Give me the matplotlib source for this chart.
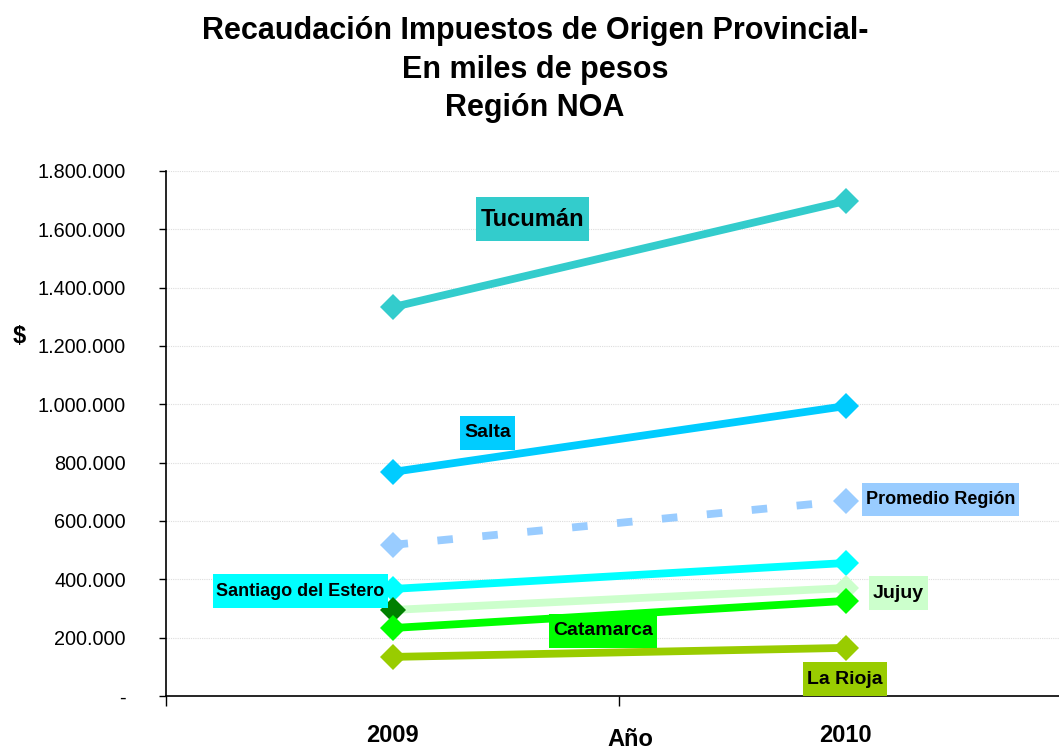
import matplotlib
matplotlib.use("Agg")
import matplotlib.pyplot as plt
from matplotlib.path import Path
from matplotlib.ticker import FuncFormatter, FixedLocator

plt.rcParams['font.family'] = ['Liberation Sans', 'DejaVu Sans']

years = ["2009", "2010"]
series_names = ["Tucumán", "Salta", "Promedio Región", "Santiago del Estero",
                "Jujuy", "Catamarca", "La Rioja"]
tucuman = [1333000, 1697000]
salta = [768000, 994000]
promedio = [518000, 669000]
santiago = [367000, 456000]
jujuy = [295000, 370000]
catamarca = [233000, 326000]
la_rioja = [134000, 165000]
y_ticks = [0, 200000, 400000, 600000, 800000, 1000000, 1200000, 1400000, 1600000, 1800000]

values = [tucuman, salta, promedio, santiago, jujuy, catamarca, la_rioja]
colors = ["#33CCCC", "#00CCFF", "#99CCFF", "#00FFFF", "#CCFFCC", "#00FF00", "#99CC00"]
# label positions (x in category units, y in data units), font sizes
label_pos = [(0.309, 1635000, 17), (0.210, 902000, 14), (1.210, 675000, 13),
             (-0.203, 360000, 13), (1.117, 353000, 14), (0.464, 223000, 14),
             (0.999, 58000, 14)]


def label_box(x0, y0, width, height, mutation_size):
    px = 0.2 * mutation_size
    py = 0.45 * mutation_size
    x0, y0 = x0 - px, y0 - py
    x1, y1 = x0 + width + 2 * px, y0 + height + 2 * py
    return Path([(x0, y0), (x1, y0), (x1, y1), (x0, y1), (x0, y0)],
                closed=True)


fig = plt.figure(figsize=(10.59, 7.53), dpi=100)
ax = fig.add_axes([166 / 1059, 57 / 753, 906 / 1059, 525 / 753])
x = list(range(len(years)))

for name, vals, col in zip(series_names, values, colors):
    ls = (0, (2, 3.8)) if name == "Promedio Región" else "-"
    ax.plot(x, vals, color=col, lw=5.6, ls=ls, solid_capstyle="butt",
            dash_capstyle="butt", zorder=2)
    mcols = [col, col]
    if name == "Jujuy":
        mcols = ["#008000", col]
    for xi, v, mc in zip(x, vals, mcols):
        ax.plot([xi], [v], marker="D", ms=13, color=mc, mec=mc, mew=0, zorder=3)

for name, (lx, ly, fs), col in zip(series_names, label_pos, colors):
    ax.text(lx, ly, name, ha="center", va="center", fontsize=fs, fontweight="bold",
            color="black", zorder=4,
            bbox=dict(boxstyle=label_box, fc=col, ec="none"))

ax.set_xlim(-0.5, 1.5)
ax.set_ylim(0, 1800000)
ax.yaxis.set_major_locator(FixedLocator(y_ticks))


def fmt(v, pos):
    if v == 0:
        return "-"
    return f"{int(v):,}".replace(",", ".")


ax.yaxis.set_major_formatter(FuncFormatter(fmt))
ax.tick_params(axis="y", labelsize=14.3, length=5, width=1, pad=24, direction="out")
ax.set_xticks(x)
ax.set_xticklabels(years, fontsize=17, fontweight="bold")
ax.tick_params(axis="x", which="major", length=0, pad=20)
ax.set_xticks([-0.5, 0.5, 1.5], minor=True)
ax.tick_params(axis="x", which="minor", length=7, width=1, direction="out")

for yt in y_ticks[1:]:
    ax.axhline(yt, color="#DDDDDD", lw=0.8, ls=(0, (1, 1)), zorder=1)

for s in ["top", "right"]:
    ax.spines[s].set_visible(False)
ax.spines["left"].set_linewidth(1.2)
ax.spines["bottom"].set_linewidth(1.2)

fig.text(535 / 1059, 1 - 31 / 753, "Recaudación Impuestos de Origen Provincial-",
         ha="center", va="center", fontsize=22, fontweight="bold")
fig.text(535 / 1059, 1 - 70 / 753, "En miles de pesos",
         ha="center", va="center", fontsize=22, fontweight="bold")
fig.text(535 / 1059, 1 - 108 / 753, "Región NOA",
         ha="center", va="center", fontsize=22, fontweight="bold")
fig.text(630 / 1059, 1 - 740 / 753, "Año", ha="center", va="center",
         fontsize=17, fontweight="bold")
fig.text(19 / 1059, 1 - 336 / 753, "$", ha="center", va="center",
         fontsize=17, fontweight="bold")

fig.savefig("out.png", dpi=100)
